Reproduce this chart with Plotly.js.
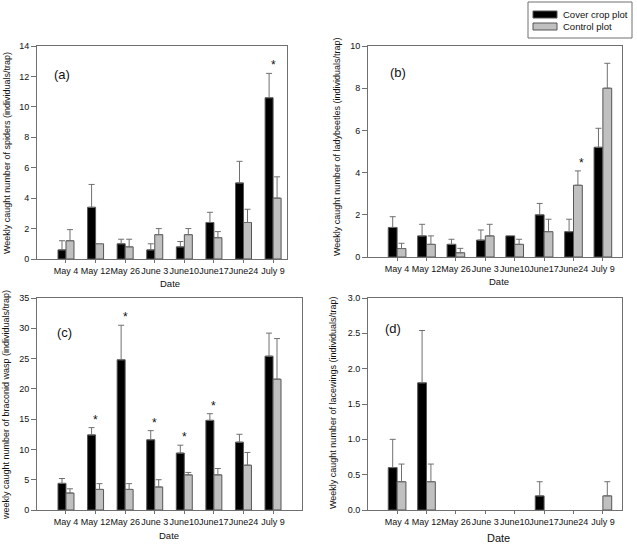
<!DOCTYPE html>
<html>
<head>
<meta charset="utf-8">
<script src="https://cdn.plot.ly/plotly-3.0.1.min.js"></script>
<style>html,body{margin:0;padding:0;background:#fff;}#chart{width:637px;height:548px;}</style>
</head>
<body>
<div id="chart"></div>
<script>
// ---------- data ----------
const dates = ["May 4", "May 12", "May 26", "June 3", "June10", "June17", "June24", "July 9"];

// (a) spiders
const spidersCover     = [0.6, 3.4, 1.0, 0.6, 0.8, 2.4, 5.0, 10.6];
const spidersCoverSE   = [0.6, 1.5, 0.3, 0.4, 0.35, 0.67, 1.42, 1.6];
const spidersControl   = [1.2, 1.0, 0.8, 1.6, 1.6, 1.4, 2.4, 4.0];
const spidersControlSE = [0.73, NaN, 0.5, 0.4, 0.4, 0.4, 0.87, 1.4];
const spidersSigCover  = [0, 0, 0, 0, 0, 0, 0, 1];
const spidersSigControl= [0, 0, 0, 0, 0, 0, 0, 0];

// (b) ladybeetles
const ladyCover     = [1.4, 1.0, 0.6, 0.8, 1.0, 2.0, 1.2, 5.2];
const ladyCoverSE   = [0.51, 0.55, 0.24, 0.48, NaN, 0.54, 0.59, 0.9];
const ladyControl   = [0.4, 0.6, 0.2, 1.0, 0.6, 1.2, 3.4, 8.0];
const ladyControlSE = [0.25, 0.4, 0.21, 0.55, 0.24, 0.59, 0.68, 1.18];
const ladySigCover  = [0, 0, 0, 0, 0, 0, 0, 0];
const ladySigControl= [0, 0, 0, 0, 0, 0, 1, 0];

// (c) braconid wasp
const waspCover     = [4.4, 12.4, 24.8, 11.6, 9.4, 14.8, 11.2, 25.4];
const waspCoverSE   = [0.8, 1.2, 5.7, 1.5, 1.3, 1.1, 1.3, 3.8];
const waspControl   = [2.8, 3.4, 3.4, 3.8, 5.8, 5.8, 7.4, 21.6];
const waspControlSE = [0.7, 0.95, 0.95, 1.2, 0.4, 1.05, 2.1, 6.7];
const waspSigCover  = [0, 1, 1, 1, 1, 1, 0, 0];
const waspSigControl= [0, 0, 0, 0, 0, 0, 0, 0];

// (d) lacewings
const laceCover     = [0.6, 1.8, 0, 0, 0, 0.2, 0, 0];
const laceCoverSE   = [0.4, 0.74, NaN, NaN, NaN, 0.2, NaN, NaN];
const laceControl   = [0.4, 0.4, 0, 0, 0, 0, 0, 0.2];
const laceControlSE = [0.25, 0.25, NaN, NaN, NaN, NaN, NaN, 0.2];
const laceSigCover  = [0, 0, 0, 0, 0, 0, 0, 0];
const laceSigControl= [0, 0, 0, 0, 0, 0, 0, 0];

const seriesNames = ["Cover crop plot", "Control plot"];
const yTitles = [
  "Weekly caught number of spiders (individuals/trap)",
  "Weekly caught number of ladybeetles (individuals/trap)",
  "weekly caught number of braconid wasp (individuals/trap)",
  "Weekly caught number of lacewings (individuals/trap)"
];
const panelLabels = ["(a)", "(b)", "(c)", "(d)"];
const xTitle = "Date";

// ---------- layout helpers ----------
const W = 637, H = 548;
const fx = p => p / W;
const fy = p => 1 - p / H;
const FONT = "Arial, 'Liberation Sans', sans-serif";
const BLACK = "#000000", GREY = "#c0c0c0", EDGE = "#555555", AXIS = "#707070";

const panels = [
  {cover: spidersCover, coverSE: spidersCoverSE, control: spidersControl, controlSE: spidersControlSE,
   sigC: spidersSigCover, sigK: spidersSigControl,
   box: [37, 287, 46, 259], xr: [-0.98, 7.47], yr: [0, 14], dtick: 2, fmt: "d", bw: 0.27,
   ytx: 7, yty: 153, xtx: 170, xty: 283, xtSize: 9.5, lab: [52, 74]},
  {cover: ladyCover, coverSE: ladyCoverSE, control: ladyControl, controlSE: ladyControlSE,
   sigC: ladySigCover, sigK: ladySigControl,
   box: [368, 622, 46, 257], xr: [-0.99, 7.65], yr: [0, 10], dtick: 2, fmt: "d", bw: 0.3,
   ytx: 337, yty: 147, xtx: 499, xty: 281, xtSize: 9.5, lab: [388, 72]},
  {cover: waspCover, coverSE: waspCoverSE, control: waspControl, controlSE: waspControlSE,
   sigC: waspSigCover, sigK: waspSigControl,
   box: [37, 302, 298, 510], xr: [-0.98, 7.98], yr: [0, 35], dtick: 5, fmt: "d", bw: 0.27,
   ytx: 6, yty: 405, xtx: 169, xty: 535, xtSize: 9.5, lab: [55, 332]},
  {cover: laceCover, coverSE: laceCoverSE, control: laceControl, controlSE: laceControlSE,
   sigC: laceSigCover, sigK: laceSigControl,
   box: [368, 622, 298, 510], xr: [-0.99, 7.65], yr: [0, 3], dtick: 0.5, fmt: ".1f", bw: 0.3,
   ytx: 333, yty: 403, xtx: 498, xty: 538, xtSize: 11, lab: [383, 328]}
];

const data = [];
const layout = {
  width: W, height: H,
  margin: {l: 0, r: 0, t: 0, b: 0},
  paper_bgcolor: "#fff", plot_bgcolor: "#fff",
  showlegend: false,
  barmode: "group",
  font: {family: FONT, size: 9, color: "#111"},
  annotations: [],
  shapes: []
};

// zero-height bars get no outline (the reference shows nothing for them)
const outline = vals => vals.map(v => (v === 0 ? 0 : 1));

panels.forEach((p, i) => {
  const n = i === 0 ? "" : String(i + 1);
  const xa = "x" + n, ya = "y" + n;
  const errCommon = {type: "data", symmetric: false, color: AXIS, thickness: 1, width: 3};
  data.push({
    type: "bar", name: seriesNames[0], x: dates, y: p.cover, xaxis: xa, yaxis: ya,
    width: p.bw, offset: -p.bw,
    marker: {color: BLACK, line: {color: EDGE, width: outline(p.cover)}},
    error_y: Object.assign({array: p.coverSE}, errCommon),
    hoverinfo: "x+y"
  });
  data.push({
    type: "bar", name: seriesNames[1], x: dates, y: p.control, xaxis: xa, yaxis: ya,
    width: p.bw, offset: 0,
    marker: {color: GREY, line: {color: EDGE, width: outline(p.control)}},
    error_y: Object.assign({array: p.controlSE}, errCommon),
    hoverinfo: "x+y"
  });
  const [x0, x1, yt, yb] = p.box;
  layout["xaxis" + n] = {
    domain: [fx(x0), fx(x1)], anchor: ya, type: "category",
    range: p.xr, showgrid: false, zeroline: false,
    showline: true, linecolor: AXIS, linewidth: 1, mirror: true,
    ticks: "outside", ticklen: 3, tickcolor: AXIS, tickangle: 0,
    tickfont: {family: FONT, size: 9, color: "#111"}, fixedrange: true
  };
  layout["yaxis" + n] = {
    domain: [fy(yb), fy(yt)], anchor: xa,
    range: p.yr, dtick: p.dtick, tick0: 0, tickformat: p.fmt,
    showgrid: false, zeroline: false,
    showline: true, linecolor: AXIS, linewidth: 1, mirror: true,
    ticks: "outside", ticklen: 5, tickcolor: AXIS,
    tickfont: {family: FONT, size: 9, color: "#111"}, fixedrange: true
  };
  // y title
  layout.annotations.push({
    xref: "paper", yref: "paper", x: fx(p.ytx), y: fy(p.yty), text: yTitles[i],
    textangle: -90, showarrow: false, xanchor: "center", yanchor: "middle",
    font: {family: FONT, size: 9, color: "#111"}
  });
  // x title
  layout.annotations.push({
    xref: "paper", yref: "paper", x: fx(p.xtx), y: fy(p.xty), text: xTitle,
    showarrow: false, xanchor: "center", yanchor: "middle",
    font: {family: FONT, size: p.xtSize, color: "#111"}
  });
  // panel label
  layout.annotations.push({
    xref: "paper", yref: "paper", x: fx(p.lab[0]), y: fy(p.lab[1]), text: panelLabels[i],
    showarrow: false, xanchor: "left", yanchor: "middle",
    font: {family: FONT, size: 13, color: "#111"}
  });
  // significance asterisks, placed above the error bar of the flagged series
  const addStars = (sig, vals, se, centre) => {
    sig.forEach((s, k) => {
      if (!s) return;
      const top = vals[k] + (isNaN(se[k]) ? 0 : se[k]);
      layout.annotations.push({
        xref: xa, yref: ya, x: k + centre, y: top, text: "*",
        showarrow: false, xanchor: "center", yanchor: "bottom", yshift: -1, xshift: 4,
        font: {family: FONT, size: 12, color: "#111"}
      });
    });
  };
  addStars(p.sigC, p.cover, p.coverSE, -p.bw / 2);
  addStars(p.sigK, p.control, p.controlSE, p.bw / 2);
});

// legend box (drawn manually to match the compact reference legend)
layout.shapes.push({type: "rect", xref: "paper", yref: "paper",
  x0: fx(528), x1: fx(632), y0: fy(38), y1: fy(2), line: {color: AXIS, width: 1}, fillcolor: "#fff"});
layout.shapes.push({type: "rect", xref: "paper", yref: "paper",
  x0: fx(533), x1: fx(557), y0: fy(18), y1: fy(11), line: {color: EDGE, width: 1}, fillcolor: BLACK});
layout.shapes.push({type: "rect", xref: "paper", yref: "paper",
  x0: fx(533), x1: fx(557), y0: fy(30), y1: fy(23), line: {color: EDGE, width: 1}, fillcolor: GREY});
seriesNames.forEach((s, k) => {
  layout.annotations.push({
    xref: "paper", yref: "paper", x: fx(561), y: fy(k === 0 ? 14.5 : 26.5), text: s,
    showarrow: false, xanchor: "left", yanchor: "middle",
    font: {family: FONT, size: 9.5, color: "#111"}
  });
});

Plotly.newPlot("chart", data, layout, {displayModeBar: false, staticPlot: true});
</script>
</body>
</html>
